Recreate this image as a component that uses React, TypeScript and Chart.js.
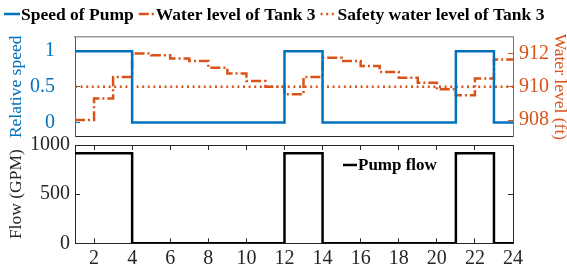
import React, { useEffect, useRef } from "react";
import { Chart, registerables } from "chart.js";

Chart.register(...registerables);

// ---- data ----
const hours = [1, 2, 3, 4, 5, 6, 7, 8, 9, 10, 11, 12, 13, 14, 15, 16, 17, 18, 19, 20, 21, 22, 23, 24];
const pumpSpeed = [1, 1, 1, 0, 0, 0, 0, 0, 0, 0, 0, 1, 1, 0, 0, 0, 0, 0, 0, 0, 1, 1, 0, 0];
const waterLevel = [
  908.0, 909.3, 910.6, 912.0, 911.9, 911.7, 911.55, 911.15, 910.8, 910.35, 910.0, 909.55,
  910.6, 911.75, 911.55, 911.25, 910.9, 910.55, 910.25, 909.85, 909.5, 910.5, 911.65, 911.65,
];
const safetyLevel = 910;
const pumpFlow = [915, 915, 915, 0, 0, 0, 0, 0, 0, 0, 0, 915, 915, 0, 0, 0, 0, 0, 0, 0, 915, 915, 0, 0];

const xTicks = [2, 4, 6, 8, 10, 12, 14, 16, 18, 20, 22, 24];
const speedTicks = [0, 0.5, 1];
const levelTicks = [908, 910, 912];
const flowTicks = [0, 500, 1000];

const BLUE = "#0072BD";
const ORANGE = "#D95319";
const DARK = "#262626";
const FONT = "'Liberation Serif', 'Times New Roman', serif";

const W = 567;
const H = 270;

const lineLegend = {
  id: "lineLegend",
  afterDraw(chart: any, _args: any, opts: any) {
    const { ctx } = chart;
    ctx.save();
    ctx.font = `bold ${opts.size}px ${FONT}`;
    ctx.textBaseline = "middle";
    ctx.textAlign = "left";
    let x = opts.x;
    const y = opts.y;
    chart.data.datasets.forEach((ds: any) => {
      ctx.beginPath();
      ctx.setLineDash(ds.borderDash || []);
      ctx.strokeStyle = ds.borderColor;
      ctx.lineWidth = ds.borderWidth;
      ctx.moveTo(x, y);
      ctx.lineTo(x + opts.sample, y);
      ctx.stroke();
      ctx.setLineDash([]);
      x += opts.sample + opts.textGap;
      ctx.fillStyle = "#000000";
      ctx.fillText(ds.label, x, y + 1);
      x += ctx.measureText(ds.label).width + opts.itemGap;
    });
    ctx.restore();
  },
};

const setTicks = (vals: number[]) => (s: any) => {
  s.ticks = vals.map((v) => ({ value: v }));
};

export default function App() {
  const topRef = useRef<HTMLCanvasElement | null>(null);
  const botRef = useRef<HTMLCanvasElement | null>(null);

  useEffect(() => {
    const topCanvas = topRef.current!;
    const botCanvas = botRef.current!;

    const topChart = new Chart(topCanvas, {
      type: "line",
      data: {
        datasets: [
          {
            label: "Speed of Pump",
            data: hours.map((h, i) => ({ x: h, y: pumpSpeed[i] })),
            xAxisID: "x",
            yAxisID: "y",
            borderColor: BLUE,
            borderWidth: 2.5,
            stepped: true,
            pointRadius: 0,
            fill: false,
          },
          {
            label: "Water level of Tank 3",
            data: hours.map((h, i) => ({ x: h, y: waterLevel[i] })),
            xAxisID: "x",
            yAxisID: "y2",
            borderColor: ORANGE,
            borderWidth: 2.5,
            borderDash: [10, 3, 2, 3],
            stepped: true,
            pointRadius: 0,
            fill: false,
          },
          {
            label: "Safety water level of Tank 3",
            data: [
              { x: hours[0], y: safetyLevel },
              { x: hours[hours.length - 1], y: safetyLevel },
            ],
            xAxisID: "x",
            yAxisID: "y2",
            borderColor: ORANGE,
            borderWidth: 2.5,
            borderDash: [2, 3.6],
            pointRadius: 0,
            fill: false,
          },
        ],
      },
      options: {
        animation: false,
        responsive: false,
        layout: { padding: { top: 31.7, bottom: 133.3, left: 0, right: 0 } },
        plugins: {
          legend: { display: false },
          tooltip: { enabled: false },
          lineLegend: { x: 4, y: 14, size: 17.5, sample: 16, textGap: 1, itemGap: 5 },
        } as any,
        scales: {
          x: {
            type: "linear",
            position: "bottom",
            min: 1,
            max: 24,
            ticks: { display: false },
            grid: { display: false },
            border: { display: true, color: DARK, width: 1 },
            afterFit: (s: any) => {
              s.height = 0;
            },
          },
          xTop: {
            type: "linear",
            position: "top",
            min: 1,
            max: 24,
            ticks: { display: false },
            grid: { display: false },
            border: { display: true, color: "#9a9a9a", width: 1.5 },
            afterFit: (s: any) => {
              s.height = 0;
            },
          },
          y: {
            position: "left",
            min: -0.2,
            max: 1.2,
            afterBuildTicks: setTicks(speedTicks),
            ticks: {
              color: BLUE,
              font: { family: FONT, size: 20 },
              padding: 25,
              callback: (v: any) => String(v),
            },
            grid: { drawOnChartArea: false, drawTicks: true, tickLength: -5, color: BLUE },
            border: { display: true, color: BLUE, width: 1 },
            title: {
              display: true,
              text: "Relative speed",
              color: BLUE,
              font: { family: FONT, size: 17.5 },
              padding: { top: 6, bottom: 0 },
            },
            afterFit: (s: any) => {
              s.width = 75;
            },
          },
          y2: {
            position: "right",
            min: 907,
            max: 913,
            afterBuildTicks: setTicks(levelTicks),
            ticks: {
              color: ORANGE,
              font: { family: FONT, size: 20 },
              padding: 11,
              callback: (v: any) => String(v),
            },
            grid: { drawOnChartArea: false, drawTicks: true, tickLength: -5, color: ORANGE },
            border: { display: true, color: ORANGE, width: 1 },
            title: {
              display: true,
              text: "Water level (ft)",
              color: ORANGE,
              font: { family: FONT, size: 17.5 },
              padding: { top: -3, bottom: 0 },
            },
            afterFit: (s: any) => {
              s.width = 54;
            },
          },
        },
      } as any,
      plugins: [lineLegend],
    });

    const botChart = new Chart(botCanvas, {
      type: "line",
      data: {
        datasets: [
          {
            label: "Pump flow",
            data: hours.map((h, i) => ({ x: h, y: pumpFlow[i] })),
            xAxisID: "x",
            yAxisID: "y",
            borderColor: "#000000",
            borderWidth: 2.5,
            stepped: true,
            pointRadius: 0,
            fill: false,
          },
        ],
      },
      options: {
        animation: false,
        responsive: false,
        layout: { padding: { top: 145, bottom: 0, left: 0, right: 0 } },
        plugins: {
          legend: { display: false },
          tooltip: { enabled: false },
          lineLegend: { x: 343, y: 165, size: 17, sample: 14, textGap: 1, itemGap: 0 },
        } as any,
        scales: {
          x: {
            type: "linear",
            position: "bottom",
            min: 1,
            max: 24,
            afterBuildTicks: setTicks(xTicks),
            ticks: {
              color: DARK,
              font: { family: FONT, size: 20 },
              padding: 8,
              autoSkip: false,
              maxRotation: 0,
              callback: (v: any) => String(v),
            },
            grid: { drawOnChartArea: false, drawTicks: true, tickLength: -5, color: DARK },
            border: { display: true, color: DARK, width: 1 },
            afterFit: (s: any) => {
              s.height = 26.7;
            },
          },
          xTop: {
            type: "linear",
            position: "top",
            min: 1,
            max: 24,
            afterBuildTicks: setTicks(xTicks),
            ticks: { display: false },
            grid: { drawOnChartArea: false, drawTicks: true, tickLength: -5, color: DARK },
            border: { display: true, color: DARK, width: 1 },
            afterFit: (s: any) => {
              s.height = 0;
            },
          },
          y: {
            position: "left",
            min: 0,
            max: 1000,
            afterBuildTicks: setTicks(flowTicks),
            ticks: {
              color: DARK,
              font: { family: FONT, size: 20 },
              padding: 10,
              callback: (v: any) => String(v),
            },
            grid: { drawOnChartArea: false, drawTicks: true, tickLength: -5, color: DARK },
            border: { display: true, color: DARK, width: 1 },
            title: {
              display: true,
              text: "Flow (GPM)",
              color: DARK,
              font: { family: FONT, size: 17.5 },
              padding: { top: 6, bottom: 0 },
            },
            afterFit: (s: any) => {
              s.width = 75;
            },
          },
          yR: {
            position: "right",
            min: 0,
            max: 1000,
            afterBuildTicks: setTicks(flowTicks),
            ticks: { display: false },
            grid: { drawOnChartArea: false, drawTicks: true, tickLength: -5, color: DARK },
            border: { display: true, color: DARK, width: 1 },
            afterFit: (s: any) => {
              s.width = 54;
            },
          },
        },
      } as any,
      plugins: [lineLegend],
    });

    return () => {
      topChart.destroy();
      botChart.destroy();
    };
  }, []);

  const canvasStyle: React.CSSProperties = {
    position: "absolute",
    left: 0,
    top: 0,
    width: W,
    height: H,
  };

  return (
    <div style={{ position: "absolute", left: 0, top: 0, width: W, height: H, background: "#ffffff" }}>
      <canvas ref={topRef} width={W} height={H} style={canvasStyle} />
      <canvas ref={botRef} width={W} height={H} style={canvasStyle} />
    </div>
  );
}
